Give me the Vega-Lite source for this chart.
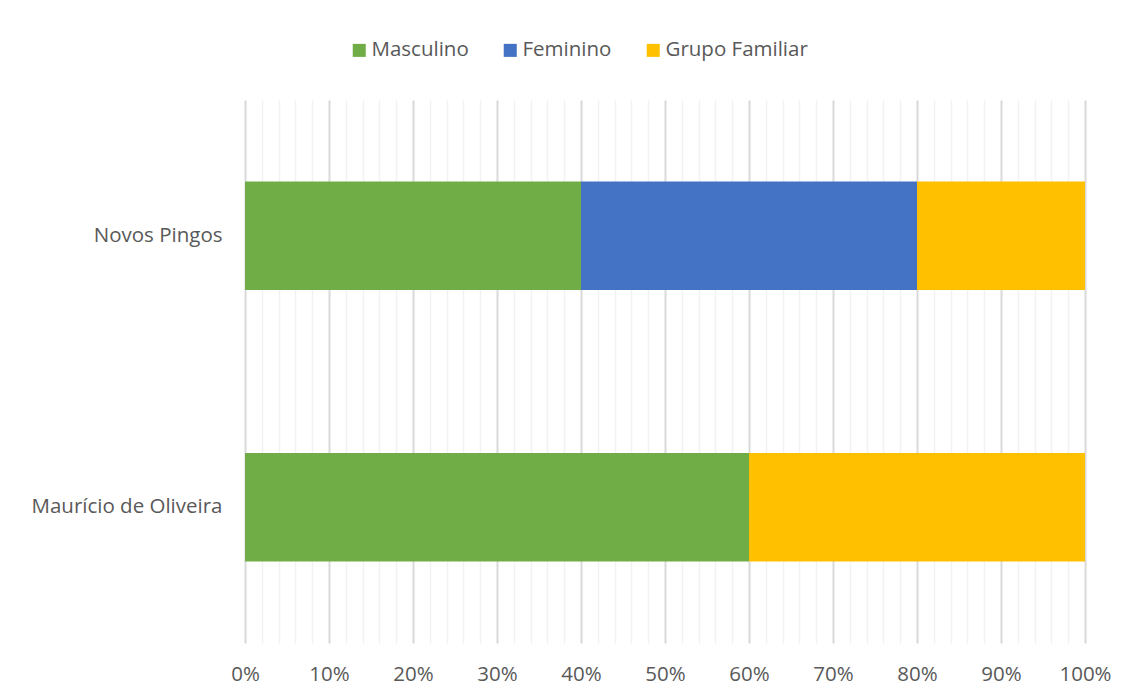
{
  "$schema": "https://vega.github.io/schema/vega-lite/v6.json",
  "autosize": "none",
  "width": 840,
  "height": 543,
  "padding": {"left": 245, "top": 100, "right": 46, "bottom": 55},
  "background": "white",
  "config": {
    "font": "Open Sans",
    "view": {"stroke": null}
  },
  "data": {
    "values": [
      {"local": "Novos Pingos", "grupo": "Masculino", "valor": 0.4},
      {"local": "Novos Pingos", "grupo": "Feminino", "valor": 0.4},
      {"local": "Novos Pingos", "grupo": "Grupo Familiar", "valor": 0.2},
      {"local": "Maurício de Oliveira", "grupo": "Masculino", "valor": 0.6},
      {"local": "Maurício de Oliveira", "grupo": "Grupo Familiar", "valor": 0.4}
    ]
  },
  "mark": {"type": "bar"},
  "encoding": {
    "y": {
      "field": "local",
      "type": "nominal",
      "sort": ["Novos Pingos", "Maurício de Oliveira"],
      "scale": {"paddingInner": 0.6, "paddingOuter": 0.3},
      "axis": {
        "title": null,
        "domain": false,
        "ticks": false,
        "labelFontSize": 20.5,
        "labelColor": "#595959",
        "labelPadding": 23,
        "labelLimit": 400
      }
    },
    "x": {
      "field": "valor",
      "type": "quantitative",
      "stack": true,
      "scale": {"domain": [0, 1], "nice": false},
      "axis": {
        "title": null,
        "domain": false,
        "ticks": false,
        "values": [0, 0.02, 0.04, 0.06, 0.08, 0.1, 0.12, 0.14, 0.16, 0.18, 0.2, 0.22, 0.24, 0.26, 0.28, 0.3, 0.32, 0.34, 0.36, 0.38, 0.4, 0.42, 0.44, 0.46, 0.48, 0.5, 0.52, 0.54, 0.56, 0.58, 0.6, 0.62, 0.64, 0.66, 0.68, 0.7, 0.72, 0.74, 0.76, 0.78, 0.8, 0.82, 0.84, 0.86, 0.88, 0.9, 0.92, 0.94, 0.96, 0.98, 1],
        "labelExpr": "round(datum.value*100) % 10 === 0 ? round(datum.value*100) + '%' : ''",
        "labelOverlap": false,
        "labelFlush": false,
        "labelBound": false,
        "labelFontSize": 20.5,
        "labelColor": "#595959",
        "labelPadding": 21,
        "grid": true,
        "gridColor": {"condition": {"test": "round(datum.value*100) % 10 === 0", "value": "#D9D9D9"}, "value": "#F2F2F2"},
        "gridWidth": {"condition": {"test": "round(datum.value*100) % 10 === 0", "value": 2}, "value": 1.5}
      }
    },
    "color": {
      "field": "grupo",
      "type": "nominal",
      "sort": ["Masculino", "Feminino", "Grupo Familiar"],
      "scale": {
        "domain": ["Masculino", "Feminino", "Grupo Familiar"],
        "range": ["#70AD47", "#4472C4", "#FFC000"]
      },
      "legend": {
        "title": null,
        "orient": "none",
        "direction": "horizontal",
        "legendX": 104,
        "legendY": -60,
        "symbolType": "square",
        "symbolSize": 170,
        "symbolStrokeWidth": 0,
        "labelFontSize": 20.5,
        "labelColor": "#595959",
        "labelOffset": 2,
        "columnPadding": 31
      }
    },
    "order": {"field": "grupo_order", "type": "quantitative"}
  }
}
